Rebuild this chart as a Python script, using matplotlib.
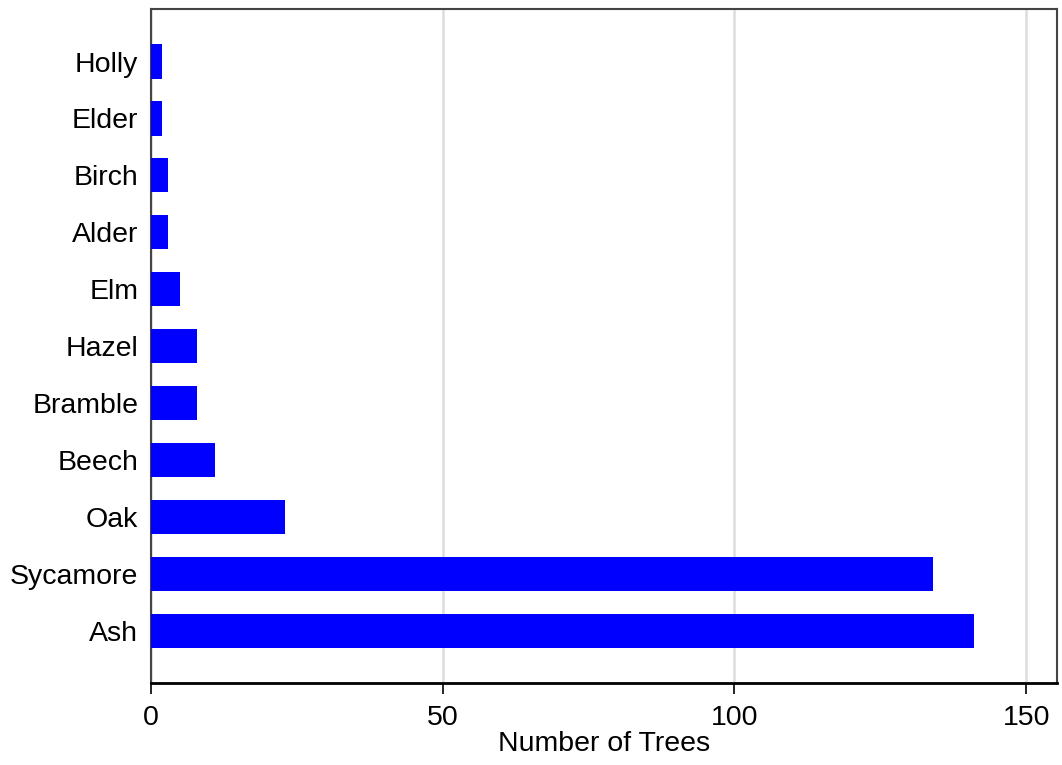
import matplotlib.pyplot as plt

# tree counts, bottom to top
species = ["Ash", "Sycamore", "Oak", "Beech", "Bramble", "Hazel",
           "Elm", "Alder", "Birch", "Elder", "Holly"]
counts = [141, 134, 23, 11, 8, 8, 5, 3, 3, 2, 2]
x_ticks = [0, 50, 100, 150]

plt.rcParams['font.family'] = ['Liberation Sans', 'DejaVu Sans']

fig, ax = plt.subplots(figsize=(10.62, 7.65), dpi=100)
fig.subplots_adjust(left=0.142, right=0.995, top=0.988, bottom=0.107)

ax.barh(species, counts, height=0.6, color="#0000FF", zorder=3)

ax.set_xlim(0, 155.2)
ax.set_ylim(-0.92, 10.92)
ax.set_xticks(x_ticks)
ax.set_xlabel("Number of Trees", fontsize=20.5, labelpad=0)

# vertical light grid only
ax.xaxis.grid(True, color="#DDDDDD", lw=1.8, zorder=0)
ax.set_axisbelow(True)

ax.tick_params(axis='x', labelsize=20.5, length=8, width=1.2, color="black", pad=8)
ax.tick_params(axis='y', labelsize=20.5, length=0, pad=9)

for side in ['top', 'right', 'left']:
    ax.spines[side].set_color("#444444")
    ax.spines[side].set_linewidth(1.5)
ax.spines['bottom'].set_color("black")
ax.spines['bottom'].set_linewidth(2)

fig.savefig("out.png", dpi=100)
